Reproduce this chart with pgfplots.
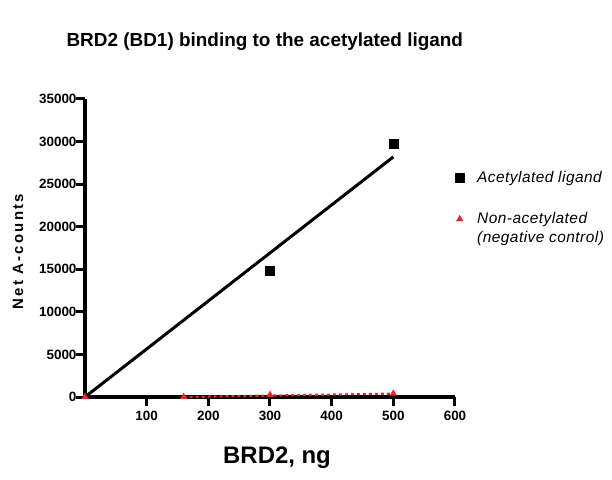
\documentclass[border=0pt]{standalone}
\usepackage{pgfplots}
\pgfplotsset{compat=1.18}
\usepackage{fontspec}
\setmainfont{Liberation Sans}
\definecolor{negred}{RGB}{232,40,45}

\begin{document}
\begin{tikzpicture}
\path[use as bounding box] (-85bp,-83bp) rectangle (527bp,397bp);
\begin{axis}[
    scale only axis,
    width=370bp, height=298bp,
    xmin=0, xmax=600, ymin=0, ymax=35000,
    axis x line*=bottom,
    axis y line*=left,
    every outer x axis line/.append style={line width=3.6bp, black},
    every outer y axis line/.append style={line width=3.6bp, black},
    xtick={100,200,...,600},
    ytick={0,5000,...,35000},
    tick align=outside,
    major tick length=9bp,
    major tick style={line width=3bp, black},
    scaled y ticks=false,
    /pgf/number format/1000 sep={},
    /pgf/number format/assume math mode=true,
    tick label style={font=\fontsize{13.5}{15}\selectfont\bfseries},
    xticklabel style={yshift=-2bp},
    yticklabel style={xshift=4bp},
    xlabel={BRD2, ng},
    xlabel style={at={(axis description cs:0.519,-0.205)}, anchor=center,
        font=\fontsize{24}{28}\selectfont\bfseries},
    ylabel={\addfontfeatures{LetterSpace=15}Net A-counts},
    ylabel style={at={(axis description cs:-0.181,0.488)}, anchor=center,
        font=\fontsize{15}{17}\selectfont\bfseries},
    clip=false,
    legend style={at={(axis description cs:0.992,0.772)}, anchor=north west,
        draw=none, fill=none, font=\fontsize{15.5}{19}\selectfont\itshape,
        cells={anchor=west, align=left}, row sep=25bp,
        /tikz/every odd column/.append style={column sep=11bp}},
    legend cell align=left,
]
\addplot[only marks, mark=square*, mark size=4.5bp, black, line width=0.4bp]
    coordinates {(300,14800) (500,29800)};
\addlegendentry{\addfontfeatures{LetterSpace=3}Acetylated ligand}
\addplot[only marks, mark=triangle*, mark size=3.8bp, negred, line width=0.4bp,
    legend image post style={yshift=9.5bp}]
    coordinates {(0,0) (160,0) (300,250) (500,400)};
\addlegendentry{\addfontfeatures{LetterSpace=3}Non-acetylated\\\addfontfeatures{LetterSpace=3}(negative control)}
\addplot[black, line width=3bp, forget plot]
    coordinates {(0,0) (500,28200)};
\addplot[negred, dashed, line width=2.2bp, forget plot]
    coordinates {(160,0) (500,400)};
\node[font=\fontsize{19}{22}\selectfont\bfseries] at (axis description cs:0.486,1.191)
    {BRD2 (BD1) binding to the acetylated ligand};
\end{axis}
\end{tikzpicture}
\end{document}
